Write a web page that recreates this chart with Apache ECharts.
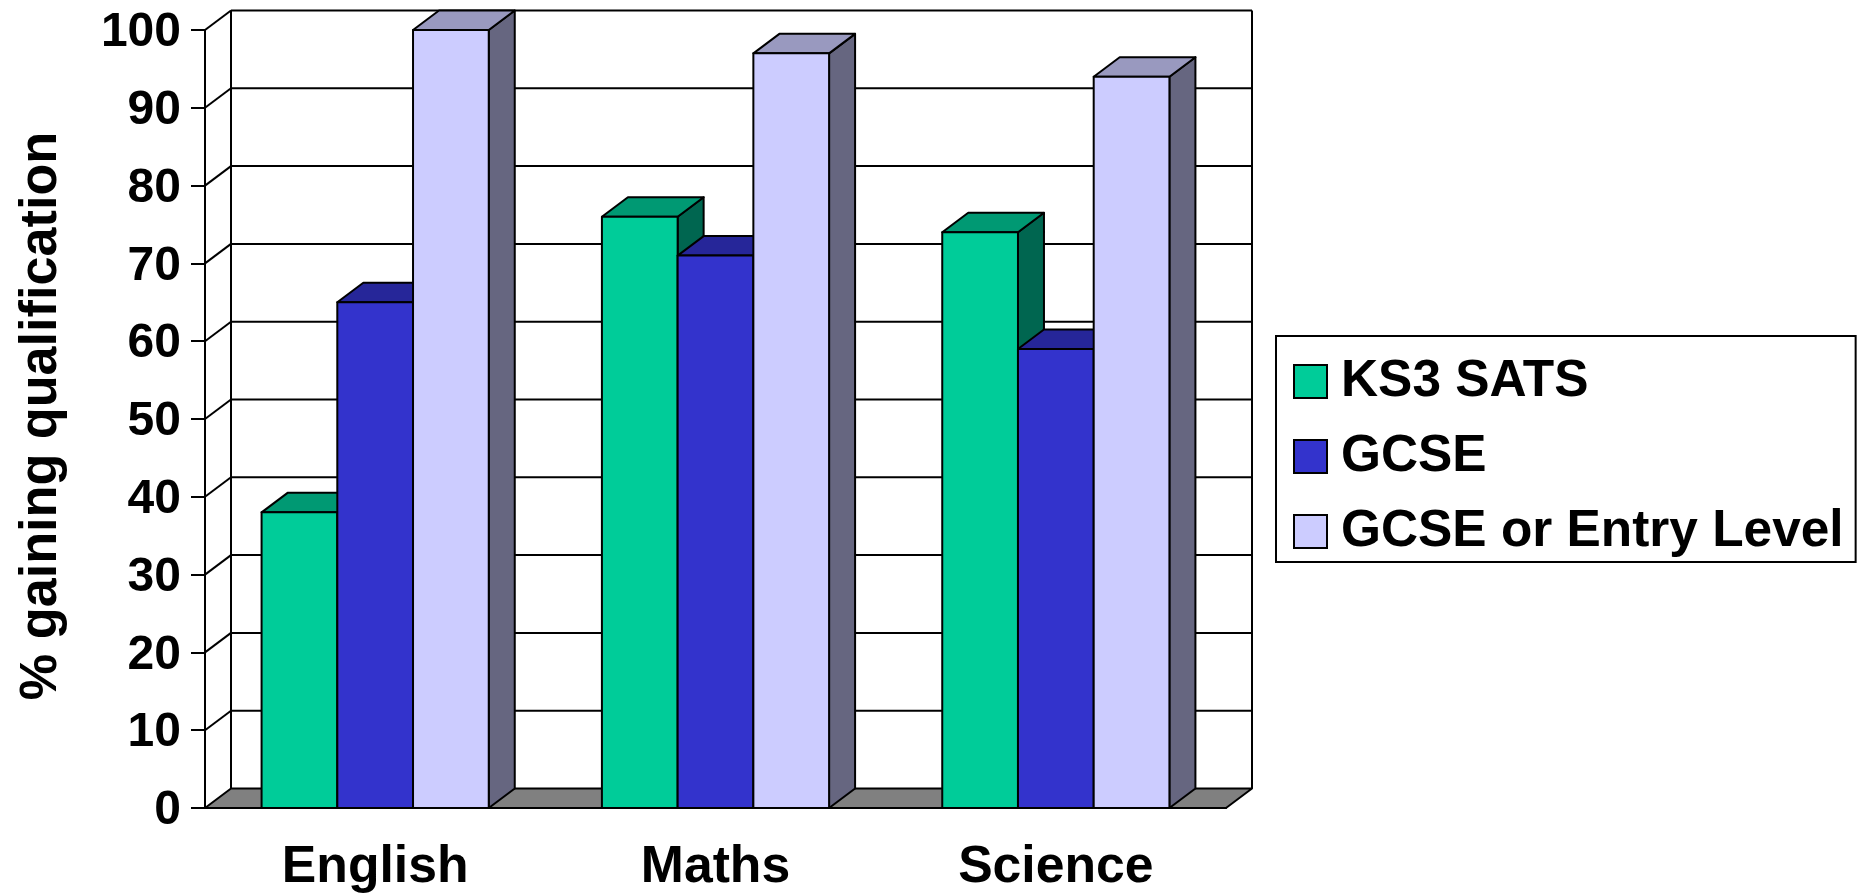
<!DOCTYPE html>
<html>
<head>
<meta charset="utf-8">
<style>html,body{margin:0;padding:0;background:#fff}#chart{width:1858px;height:894px}</style>
<script src="https://cdn.jsdelivr.net/npm/echarts@6/dist/echarts.min.js"></script>
</head>
<body>
<div id="chart"></div>
<script>
// Attainment by subject, drawn as pseudo-3D columns
const subjects = ['English', 'Maths', 'Science'];
const ks3Sats = [38, 76, 74];
const gcse = [65, 71, 59];
const gcseOrEntry = [100, 97, 94];
const percentTicks = [0, 10, 20, 30, 40, 50, 60, 70, 80, 90, 100];

const FONT = '"Liberation Sans", Arial, sans-serif';
const DEPTH_X = 26;
const DEPTH_Y = 19.5;
const BAR_SHARE = 0.2225;
const INK = '#000';
const STROKE = 2;
const edge = { stroke: INK, lineWidth: STROKE, lineJoin: 'round' };

function poly(points, fill) {
  return { type: 'polygon', shape: { points }, style: Object.assign({ fill }, edge) };
}
function seg(x1, y1, x2, y2) {
  return { type: 'line', shape: { x1, y1, x2, y2 }, style: { stroke: INK, lineWidth: STROKE } };
}

// Walls, floor and back gridlines, one group per axis tick
function renderFrame(params, api) {
  const cs = params.coordSys;
  const tick = api.value(1);
  const y = api.coord([0, tick])[1];
  const left = cs.x;
  const right = cs.x + cs.width;
  const children = [];
  if (tick === 0) {
    children.push(poly([[left, y], [left + DEPTH_X, y - DEPTH_Y], [right + DEPTH_X, y - DEPTH_Y], [right, y]], '#808080'));
    const top = api.coord([0, 100])[1];
    children.push(seg(left + DEPTH_X, y - DEPTH_Y, left + DEPTH_X, top - DEPTH_Y));
    children.push(seg(right + DEPTH_X, y - DEPTH_Y, right + DEPTH_X, top - DEPTH_Y));
  } else {
    children.push(seg(left, y, left + DEPTH_X, y - DEPTH_Y));
    children.push(seg(left + DEPTH_X, y - DEPTH_Y, right + DEPTH_X, y - DEPTH_Y));
  }
  return { type: 'group', children };
}

// A column as front, top and side faces
function columnRenderer(slot, front, topFace, sideFace) {
  return function (params, api) {
    const center = api.coord([api.value(0), 0])[0];
    const band = api.size([1, 0])[0];
    const w = band * BAR_SHARE;
    const x0 = center + (slot - 1.5) * w;
    const x1 = x0 + w;
    const yTop = api.coord([api.value(0), api.value(1)])[1];
    const yBase = api.coord([api.value(0), 0])[1];
    return {
      type: 'group',
      children: [
        poly([[x1, yTop], [x1 + DEPTH_X, yTop - DEPTH_Y], [x1 + DEPTH_X, yBase - DEPTH_Y], [x1, yBase]], sideFace),
        poly([[x0, yTop], [x0 + DEPTH_X, yTop - DEPTH_Y], [x1 + DEPTH_X, yTop - DEPTH_Y], [x1, yTop]], topFace),
        poly([[x0, yTop], [x1, yTop], [x1, yBase], [x0, yBase]], front)
      ]
    };
  };
}

function columnSeries(name, values, slot, front, topFace, sideFace) {
  return {
    type: 'custom',
    name,
    coordinateSystem: 'cartesian2d',
    clip: false,
    itemStyle: { color: front },
    encode: { x: 0, y: 1 },
    data: values.map((v, i) => [i, v]),
    renderItem: columnRenderer(slot, front, topFace, sideFace)
  };
}

const chart = echarts.init(document.getElementById('chart'), null, { renderer: 'canvas' });
chart.setOption({
  animation: false,
  backgroundColor: '#fff',
  grid: { left: 205, right: 632, top: 30, bottom: 86, outerBoundsMode: 'none' },
  xAxis: {
    type: 'category',
    data: subjects,
    axisLine: { lineStyle: { color: INK, width: STROKE } },
    axisTick: { length: 14, lineStyle: { color: INK, width: STROKE } },
    axisLabel: { color: INK, fontFamily: FONT, fontWeight: 'bold', fontSize: 51.7, margin: 34 }
  },
  yAxis: {
    type: 'value',
    min: 0,
    max: 100,
    interval: 10,
    name: '% gaining qualification',
    nameLocation: 'middle',
    nameRotate: 90,
    nameGap: 137,
    nameTextStyle: { color: INK, fontFamily: FONT, fontWeight: 'bold', fontSize: 52.2, padding: [0, 0, 0, 6] },
    splitLine: { show: false },
    axisLine: { show: true, lineStyle: { color: INK, width: STROKE } },
    axisTick: { show: true, length: 14, lineStyle: { color: INK, width: STROKE } },
    axisLabel: {
      color: INK, fontFamily: FONT, fontWeight: 'bold', fontSize: 48, margin: 24,
      verticalAlign: 'top',
      lineHeight: 6,
      customValues: percentTicks
    }
  },
  legend: {
    left: 1276,
    top: 336,
    orient: 'vertical',
    icon: 'rect',
    itemWidth: 33,
    itemHeight: 33,
    itemGap: 14,
    padding: [15, 12, 0, 17],
    selectedMode: false,
    backgroundColor: '#fff',
    borderColor: INK,
    borderWidth: 2,
    itemStyle: { borderColor: INK, borderWidth: 2 },
    textStyle: { color: INK, fontFamily: FONT, fontWeight: 'bold', fontSize: 51.4, lineHeight: 57, padding: [4, 0, 0, 9] },
    data: ['KS3 SATS', 'GCSE', 'GCSE or Entry Level']
  },
  series: [
    {
      type: 'custom',
      coordinateSystem: 'cartesian2d',
      clip: false,
      silent: true,
      encode: { x: 0, y: 1 },
      data: percentTicks.map(t => [0, t]),
      renderItem: renderFrame
    },
    columnSeries('KS3 SATS', ks3Sats, 0, '#00CC99', '#009973', '#006650'),
    columnSeries('GCSE', gcse, 1, '#3333CC', '#262699', '#1A1A66'),
    columnSeries('GCSE or Entry Level', gcseOrEntry, 2, '#CCCCFF', '#9999BF', '#666680')
  ]
});
</script>
</body>
</html>
